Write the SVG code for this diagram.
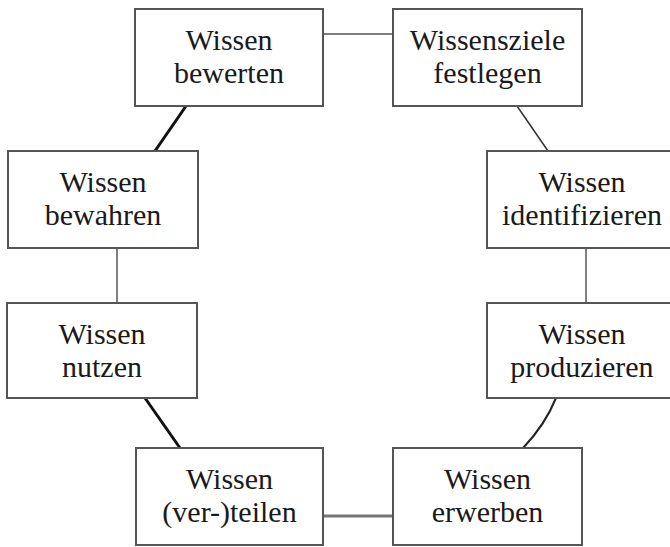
<svg xmlns="http://www.w3.org/2000/svg" width="670" height="547" viewBox="0 0 670 547">
<style>
.box{fill:#fff;stroke:#555;stroke-width:2}
.t{font-family:"Liberation Serif","Times New Roman",serif;font-size:30px;fill:#1a1a1a;text-anchor:middle}
.c{fill:none;stroke:#555;stroke-width:1.5}
.ck{fill:none;stroke:#111;stroke-width:3}
</style>
<rect width="670" height="547" fill="#fff"/>
<g id="connectors">
<line class="c" x1="323" y1="34" x2="393" y2="34"/>
<line class="ck" x1="186" y1="106" x2="155" y2="151"/>
<line class="c" x1="517" y1="106" x2="548" y2="151" style="stroke:#333"/>
<line class="c" x1="117" y1="248" x2="117" y2="303"/>
<line class="c" x1="586" y1="248" x2="586" y2="303"/>
<line class="ck" x1="145" y1="398" x2="180" y2="448"/>
<path class="c" d="M556,398 Q545,425 523,448" style="stroke:#222;stroke-width:2"/>
<line class="c" x1="323" y1="516" x2="393" y2="516" style="stroke:#777;stroke-width:3"/>
</g>
<g id="n1"><rect class="box" x="135" y="9" width="188" height="97"/>
<text class="t" x="229" y="50">Wissen</text>
<text class="t" x="229" y="83">bewerten</text></g>
<g id="n2"><rect class="box" x="393" y="9" width="189" height="97"/>
<text class="t" x="487.5" y="50">Wissensziele</text>
<text class="t" x="487.5" y="83">festlegen</text></g>
<g id="n3"><rect class="box" x="487" y="151" width="190" height="97"/>
<text class="t" x="582" y="192">Wissen</text>
<text class="t" x="582" y="225">identifizieren</text></g>
<g id="n4"><rect class="box" x="487" y="303" width="190" height="95"/>
<text class="t" x="582" y="344">Wissen</text>
<text class="t" x="582" y="377">produzieren</text></g>
<g id="n5"><rect class="box" x="393" y="448" width="189" height="97"/>
<text class="t" x="487.5" y="489">Wissen</text>
<text class="t" x="487.5" y="522">erwerben</text></g>
<g id="n6"><rect class="box" x="136" y="448" width="187" height="97"/>
<text class="t" x="229.5" y="489">Wissen</text>
<text class="t" x="229.5" y="522">(ver-)teilen</text></g>
<g id="n7"><rect class="box" x="7" y="303" width="190" height="95"/>
<text class="t" x="102" y="344">Wissen</text>
<text class="t" x="102" y="377">nutzen</text></g>
<g id="n8"><rect class="box" x="8" y="151" width="190" height="97"/>
<text class="t" x="103" y="192">Wissen</text>
<text class="t" x="103" y="225">bewahren</text></g>
</svg>
